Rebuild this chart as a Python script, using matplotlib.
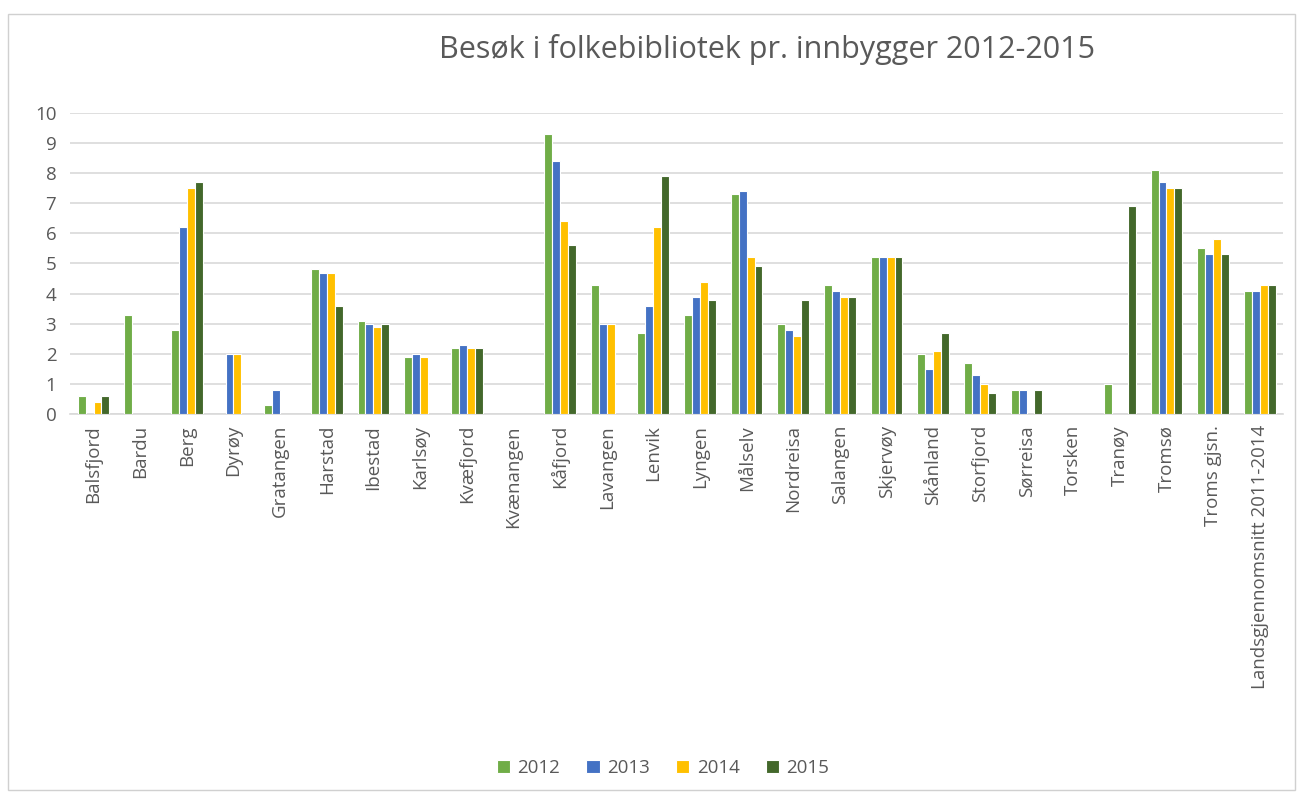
import numpy as np
import matplotlib
matplotlib.use("Agg")
import matplotlib.pyplot as plt
from matplotlib.patches import Rectangle

nan = np.nan

kommuner = ["Balsfjord", "Bardu", "Berg", "Dyrøy", "Gratangen", "Harstad", "Ibestad",
            "Karlsøy", "Kvæfjord", "Kvænangen", "Kåfjord", "Lavangen", "Lenvik", "Lyngen",
            "Målselv", "Nordreisa", "Salangen", "Skjervøy", "Skånland", "Storfjord",
            "Sørreisa", "Torsken", "Tranøy", "Tromsø", "Troms gjsn.",
            "Landsgjennomsnitt 2011-2014"]

years = ["2012", "2013", "2014", "2015"]

v2012 = [0.6, 3.3, 2.8, nan, 0.3, 4.8, 3.1, 1.9, 2.2, nan, 9.3, 4.3, 2.7, 3.3, 7.3, 3.0,
         4.3, 5.2, 2.0, 1.7, 0.8, nan, 1.0, 8.1, 5.5, 4.1]
v2013 = [nan, nan, 6.2, 2.0, 0.8, 4.7, 3.0, 2.0, 2.3, nan, 8.4, 3.0, 3.6, 3.9, 7.4, 2.8,
         4.1, 5.2, 1.5, 1.3, 0.8, nan, nan, 7.7, 5.3, 4.1]
v2014 = [0.4, nan, 7.5, 2.0, nan, 4.7, 2.9, 1.9, 2.2, nan, 6.4, 3.0, 6.2, 4.4, 5.2, 2.6,
         3.9, 5.2, 2.1, 1.0, nan, nan, nan, 7.5, 5.8, 4.3]
v2015 = [0.6, nan, 7.7, nan, nan, 3.6, 3.0, nan, 2.2, nan, 5.6, nan, 7.9, 3.8, 4.9, 3.8,
         3.9, 5.2, 2.7, 0.7, 0.8, nan, 6.9, 7.5, 5.3, 4.3]

series = [v2012, v2013, v2014, v2015]
colors = ["#70AD47", "#4472C4", "#FFC000", "#43682B"]

plt.rcParams['font.family'] = ['Open Sans', 'DejaVu Sans']
txt = "#595959"

fig = plt.figure(figsize=(13, 7.96), dpi=100)
fig.patches.append(Rectangle((0.006, 0.008), 0.99, 0.975, transform=fig.transFigure,
                             fill=False, edgecolor="#d0d0d0", linewidth=1))
ax = fig.add_axes([0.054, 0.48, 0.933, 0.378])

x = np.arange(len(kommuner))
w = 0.17
for i, (vals, c, yr) in enumerate(zip(series, colors, years)):
    ax.bar(x + (i - 1.5) * w, vals, width=w, color=c, edgecolor="white",
           linewidth=0.8, label=yr, zorder=3)

ax.set_xlim(-0.5, len(kommuner) - 0.5)
ax.set_ylim(0, 10)
ax.set_yticks(range(0, 11))
ax.grid(axis="y", color="#d9d9d9", linewidth=1.2, zorder=0)
ax.tick_params(axis="y", length=0, labelsize=13.5, labelcolor=txt, pad=10)
ax.tick_params(axis="x", length=0, labelsize=13.5, labelcolor=txt, pad=8)
ax.set_xticks(x)
ax.set_xticklabels(kommuner, rotation=90)
for s in ["top", "right", "left"]:
    ax.spines[s].set_visible(False)
ax.spines["bottom"].set_color("#d9d9d9")
ax.spines["bottom"].set_linewidth(1.2)

fig.text(0.59, 0.938, "Besøk i folkebibliotek pr. innbygger 2012-2015", ha="center",
         va="center", fontsize=22, color=txt)

fig.legend(loc="center", bbox_to_anchor=(0.51, 0.035), ncol=4, frameon=False,
           fontsize=13.5, labelcolor=txt, handlelength=0.7, handleheight=0.7,
           handletextpad=0.4, columnspacing=1.4)

fig.savefig("out.png", dpi=100, facecolor="white")
